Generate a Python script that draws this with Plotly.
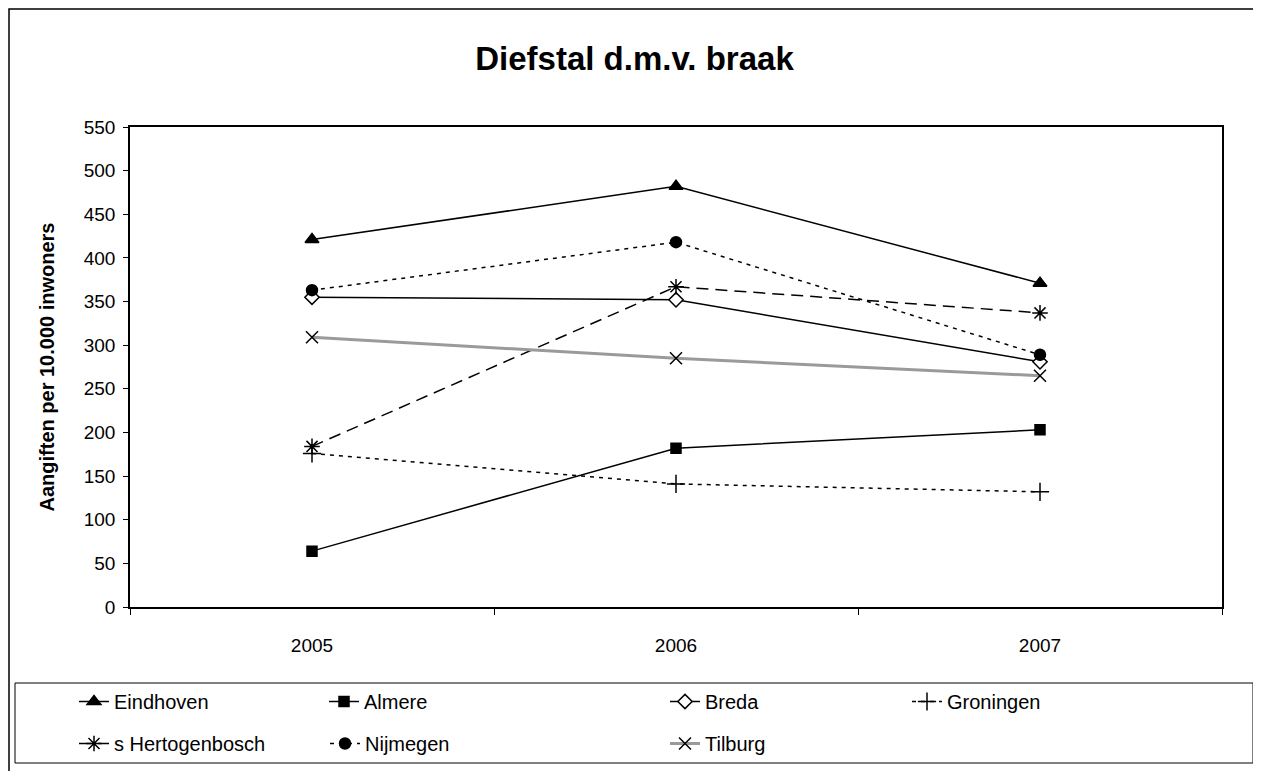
import plotly.graph_objects as go

years = ["2005", "2006", "2007"]

eindhoven = [421, 482, 371]
almere = [64, 182, 203]
breda = [355, 352, 281]
groningen = [176, 141, 132]
hertogenbosch = [184, 367, 337]
nijmegen = [363, 418, 289]
tilburg = [309, 285, 265]

# the page body has an 8px margin, so the figure is a bit smaller than the window
W, H = 1253, 763
L, R, T, B = 122, 1214, 119, 599   # plot area in figure pixels
FONT = "Liberation Sans, Arial, sans-serif"


def px(x):
    return (x - L) / (R - L)


def py(y):
    return (B - y) / (B - T)


fig = go.Figure()

# legend slots (left x, top y) in figure pixels, one legend per entry
slots = [(66, 674), (316, 674), (657, 674), (899, 674),
         (66, 716), (317, 716), (657, 716)]
legend_names = ["legend"] + ["legend%d" % i for i in range(2, 8)]


def add_series(name, values, symbol, size, dash="solid", color="black", width=1.5,
               fill="black"):
    n = len(fig.data)
    fig.add_trace(go.Scatter(
        x=years, y=values, name=name, mode="lines+markers",
        line=dict(color=color, width=width, dash=dash),
        marker=dict(symbol=symbol, size=size, color=fill,
                    line=dict(color="black", width=1.5)),
        legend=legend_names[n],
    ))

add_series("Eindhoven", eindhoven, "triangle-up", 12)
add_series("Almere", almere, "square", 10)
add_series("Breda", breda, "diamond", 11, fill="white")
add_series("Groningen", groningen, "cross-thin", 13, dash="4px,5px")
add_series("s Hertogenbosch", hertogenbosch, "asterisk", 13, dash="12px,7px")
add_series("Nijmegen", nijmegen, "circle", 11, dash="4px,5px")
add_series("Tilburg", tilburg, "x-thin", 12, color="#9a9a9a", width=3)

legends = {}
for name, (lx, ly) in zip(legend_names, slots):
    legends[name] = dict(
        orientation="h", xref="container", yref="container",
        x=lx / W, y=1 - ly / H, xanchor="left", yanchor="top",
        font=dict(family=FONT, size=20, color="black"),
        bgcolor="rgba(0,0,0,0)", borderwidth=0, itemclick=False,
    )

fig.update_layout(
    width=W, height=H,
    margin=dict(l=L, r=W - R, t=T, b=H - B),
    paper_bgcolor="white", plot_bgcolor="white",
    font=dict(family=FONT, size=19, color="black"),
    title=dict(text="<b>Diefstal d.m.v. braak</b>", x=0.5, xanchor="center",
               y=1 - 50 / H, yanchor="middle",
               font=dict(family=FONT, size=33, color="black")),
    showlegend=True,
    shapes=[
        # outer chart border
        dict(type="rect", xref="paper", yref="paper",
             x0=px(1), x1=px(1249), y0=py(800), y1=py(1),
             line=dict(color="black", width=1.5), layer="below"),
        # legend box
        dict(type="rect", xref="paper", yref="paper",
             x0=px(7), x1=px(1245), y0=py(755), y1=py(675),
             line=dict(color="black", width=1)),
    ],
    **legends,
)

fig.update_xaxes(
    type="category", range=[-0.5, 2.5],
    showline=True, linecolor="black", linewidth=1.5, mirror=True,
    ticks="outside", ticklen=6, tickcolor="black", tickson="boundaries",
    ticklabelstandoff=20, showgrid=False, zeroline=False,
    tickfont=dict(family=FONT, size=19),
)

fig.update_yaxes(
    range=[0, 550], dtick=50, tick0=0,
    showline=True, linecolor="black", linewidth=1.5, mirror=True,
    ticks="outside", ticklen=5, tickcolor="black", ticklabelstandoff=4,
    showgrid=False, zeroline=False,
    tickfont=dict(family=FONT, size=19),
    title=dict(text="<b>Aangiften per 10.000 inwoners</b>", standoff=24,
               font=dict(family=FONT, size=20)),
)

fig.write_html("out.html")
